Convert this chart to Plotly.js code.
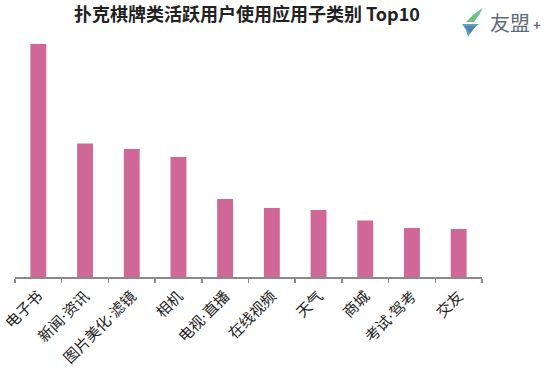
<!DOCTYPE html>
<html>
<head>
<meta charset="utf-8">
<script src="https://cdn.plot.ly/plotly-3.0.1.min.js"></script>
<style>html,body{margin:0;padding:0;background:#fff;}#chart{width:550px;height:371px;}</style>
</head>
<body>
<div id="chart"></div>
<script>
const categories = ["电子书", "新闻·资讯", "图片美化·滤镜", "相机", "电视·直播", "在线视频", "天气", "商城", "考试·驾考", "交友"];
const values = [23.3, 13.35, 12.8, 12.0, 7.8, 6.9, 6.7, 5.65, 4.9, 4.8];
const titleText = "扑克棋牌类活跃用户使用应用子类别 Top10";
const logoText = "友盟";

const FONT = "'Noto Sans CJK SC', 'Noto Sans', sans-serif";
const LABEL_FONT = "'DejaVu Sans', 'Noto Sans CJK SC', sans-serif";
const W = 550, H = 371;
const L = 15, R = 68, T = 30, B = 93.5;
const pw = W - L - R, ph = H - T - B;
function px(x) { return (x - L) / pw; }
function py(y) { return (H - B - y) / ph; }
function path(pts) {
  return 'M' + pts.map(p => px(p[0]).toFixed(4) + ',' + py(p[1]).toFixed(4)).join(' L') + ' Z';
}

const data = [{
  type: 'bar',
  x: categories,
  y: values,
  marker: { color: '#cf6897' },
  hoverinfo: 'none'
}];

const layout = {
  width: W, height: H,
  margin: { l: L, r: R, t: T, b: B, pad: 0 },
  paper_bgcolor: '#ffffff',
  plot_bgcolor: '#ffffff',
  showlegend: false,
  bargap: 0.66,
  title: {
    text: '<b>' + titleText + '</b>',
    font: { family: FONT, size: 18, color: '#222222' },
    x: 247 / W, xanchor: 'center',
    y: 1 - 15 / H, yanchor: 'middle'
  },
  xaxis: {
    type: 'category',
    showline: true, linecolor: '#8a8a8a', linewidth: 1.5,
    ticks: 'outside', tickson: 'boundaries', ticklen: 4, tickcolor: '#8a8a8a', tickwidth: 1.5,
    tickangle: -45,
    ticklabelstandoff: 3,
    tickfont: { family: LABEL_FONT, size: 15, color: '#222222' },
    showgrid: false, zeroline: false, fixedrange: true
  },
  yaxis: {
    range: [0, 24.7],
    visible: false, showgrid: false, zeroline: false, fixedrange: true
  },
  annotations: [{
    xref: 'paper', yref: 'paper',
    x: px(488), y: py(22), xanchor: 'left', yanchor: 'middle',
    text: logoText, showarrow: false,
    font: { family: FONT, size: 20, color: '#5d6b7a' }
  }, {
    xref: 'paper', yref: 'paper',
    x: px(531), y: py(24), xanchor: 'left', yanchor: 'middle',
    text: '<b>+</b>', showarrow: false,
    font: { family: FONT, size: 13, color: '#5d6b7a' }
  }],
  shapes: [{
    type: 'path', xref: 'paper', yref: 'paper',
    path: path([[483, 8], [474, 14], [466, 22], [474, 22], [479, 15]]),
    fillcolor: '#6cc08a', line: { width: 0 }
  }, {
    type: 'path', xref: 'paper', yref: 'paper',
    path: path([[462, 24], [479, 24], [472, 30], [468, 37], [466, 30]]),
    fillcolor: '#5aa7b8', line: { width: 0 }
  }, {
    type: 'path', xref: 'paper', yref: 'paper',
    path: path([[465, 26], [476, 26], [470, 34]]),
    fillcolor: '#4f79a8', line: { width: 0 }, opacity: 0.8
  }]
};

Plotly.newPlot('chart', data, layout, { displayModeBar: false, staticPlot: true });
</script>
</body>
</html>
